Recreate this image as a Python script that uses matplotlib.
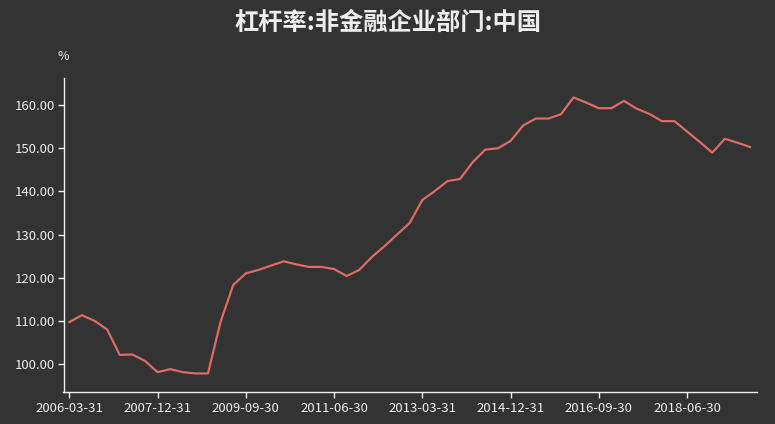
import matplotlib
matplotlib.use("Agg")
import matplotlib.pyplot as plt
import pandas as pd

plt.rcParams["font.family"] = ["Noto Sans CJK SC", "DejaVu Sans"]

TITLE = "杠杆率:非金融企业部门:中国"
UNIT = "%"

# quarterly, 2006Q1 -> 2019Q3
dates = pd.date_range("2006-03-31", periods=55, freq="QE").strftime("%Y-%m-%d").tolist()
values = [
    109.7, 111.3, 110.0, 108.0, 102.1, 102.2, 100.7, 98.1, 98.8, 98.1,
    97.8, 97.8, 109.8, 118.3, 121.0, 121.8, 122.8, 123.8, 123.1, 122.5,
    122.5, 122.0, 120.4, 121.8, 124.8, 127.3, 130.0, 132.7, 138.0, 140.1,
    142.4, 142.9, 146.8, 149.7, 150.0, 151.7, 155.3, 156.9, 156.9, 157.9,
    161.8, 160.6, 159.3, 159.3, 161.0, 159.2, 158.0, 156.3, 156.3, 153.9,
    151.5, 149.0, 152.2, 151.3, 150.3,
]
y_ticks = [100, 110, 120, 130, 140, 150, 160]

BG = "#333333"
FG = "#eeeeee"
LINE = "#dd6b66"

W, H = 775, 424
fig = plt.figure(figsize=(W / 100, H / 100), dpi=100, facecolor=BG)
ax = fig.add_axes([63.5 / W, (H - 392) / H, (757 - 63.5) / W, (392 - 78) / H])
ax.set_facecolor(BG)

x = list(range(len(values)))
ax.plot(x, values, color=LINE, linewidth=1.6, solid_joinstyle="round")

ax.set_xlim(-0.46, len(values) - 1 + 0.55)
ax.set_ylim(93.5, 166.3)

step = 7
ax.set_xticks(x[::step])
ax.set_xticklabels(dates[::step])
ax.set_yticks(y_ticks)
ax.set_yticklabels([f"{v:.2f}" for v in y_ticks])

for side in ("top", "right"):
    ax.spines[side].set_visible(False)
for side in ("left", "bottom"):
    ax.spines[side].set_color(FG)
    ax.spines[side].set_linewidth(1.0)

ax.tick_params(axis="both", colors=FG, labelcolor=FG, labelsize=9.5, length=4, width=1)
ax.tick_params(axis="x", pad=3)
ax.tick_params(axis="y", pad=2)

fig.text(63.5 / W, 1 - 57 / H, UNIT, color=FG, fontsize=9, ha="center", va="center")
fig.text(0.5, 1 - 23 / H, TITLE, color=FG, fontsize=17.5, fontweight="bold",
         ha="center", va="center")

fig.savefig("out.png", dpi=100, facecolor=BG)
